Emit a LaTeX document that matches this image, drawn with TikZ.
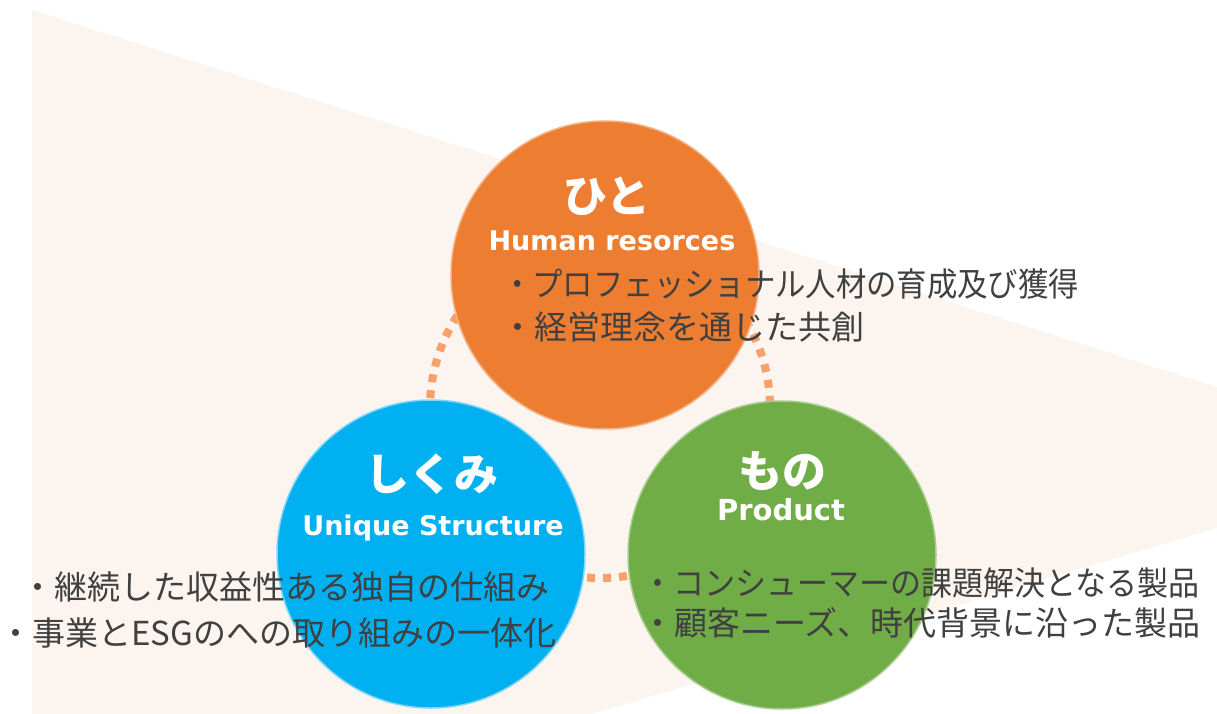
\documentclass[tikz,border=0pt]{standalone}
\usepackage{fontspec}
\usepackage{graphicx}
\setmainfont{Noto Sans CJK JP}
\newfontfamily\lat{DejaVu Sans}
\definecolor{bgpeach}{RGB}{251,244,239}
\definecolor{orng}{RGB}{237,125,49}
\definecolor{blu}{RGB}{0,176,240}
\definecolor{grn}{RGB}{112,173,71}
\definecolor{dotc}{RGB}{248,160,104}
\definecolor{txt}{RGB}{64,64,64}
\begin{document}
\begin{tikzpicture}[x=1pt,y=-1pt,
  bubble/.style={circle, minimum size=308pt, inner sep=0pt, line width=1.5pt},
  head/.style={text=white, font=\bfseries\fontsize{44}{48}\selectfont, inner sep=0pt},
  sub/.style={text=white, font=\lat\bfseries\fontsize{27}{31}\selectfont, inner sep=0pt},
  bul/.style={text=txt, font=\fontsize{33}{38}\selectfont, inner sep=0pt, anchor=west},
]
\useasboundingbox (0,0) rectangle (1217,714);
\fill[bgpeach] (32,10) -- (1217,387) -- (1217,528) -- (592,714) -- (32,714) -- cycle;
\coordinate (ring) at (600,408);
\draw[dotc, line width=8pt, dash pattern=on 8pt off 8pt] (ring) circle[radius=170];
\node[bubble, fill=orng, draw=orng!60!white] (hito) at (605,275) {};
\node[bubble, fill=blu, draw=blu!50!white] (shikumi) at (431,554) {};
\node[bubble, fill=grn, draw=grn!60!white] (mono) at (782,555) {};
% orange
\node[head] (hitoT) at (607,196) {ひと};
\node[sub] (hitoE) at (612,241) {Human resorces};
\node[bul] (h1) at (502,284) {\scalebox{0.92}[1]{・プロフェッショナル人材の育成及び獲得}};
\node[bul] (h2) at (501,327) {・経営理念を通じた共創};
% blue
\node[head] (shikumiT) at (432,474) {しくみ};
\node[sub] (shikumiE) at (433,528) {Unique Structure};
\node[bul] (s1) at (21,587) {・継続した収益性ある独自の仕組み};
\node[bul] (s2) at (-1,633) {・事業とESGのへの取り組みの一体化};
% green
\node[head] (monoT) at (782,471) {もの};
\node[sub, font=\lat\bfseries\fontsize{29}{33}\selectfont] (monoE) at (781,510) {Product};
\node[bul] (m1) at (642,583) {\scalebox{0.94}[1]{・コンシューマーの課題解決となる製品}};
\node[bul] (m2) at (641,623) {・顧客ニーズ、時代背景に沿った製品};
\end{tikzpicture}
\end{document}
